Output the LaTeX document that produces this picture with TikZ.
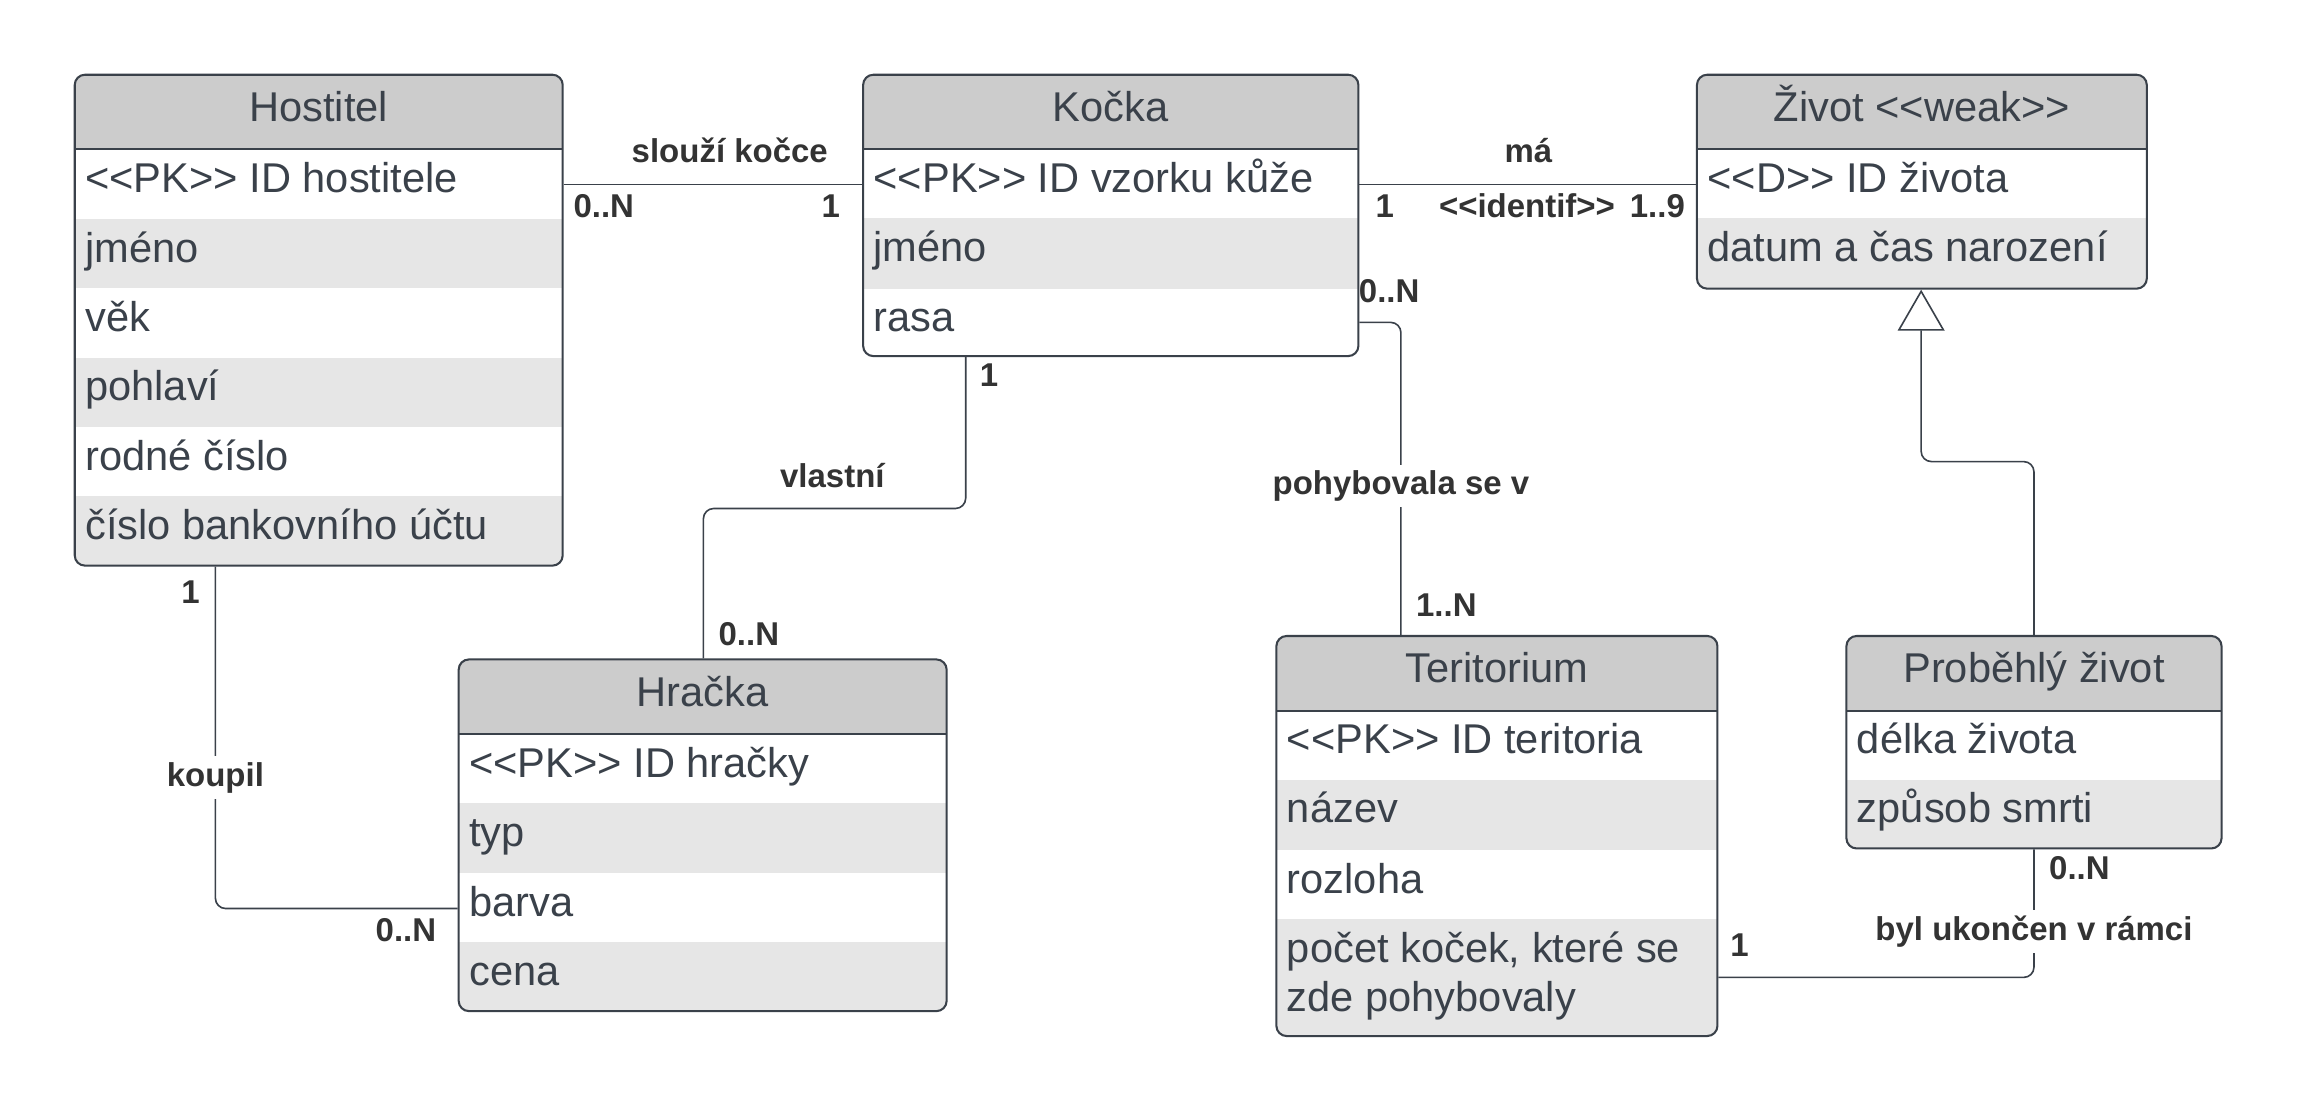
\documentclass[tikz,border=0pt]{standalone}
\usepackage{fontspec}
\setmainfont{Liberation Sans}
\usetikzlibrary{fit,arrows.meta}
\definecolor{bd}{HTML}{3A414A}
\definecolor{hdr}{HTML}{CCCCCC}
\definecolor{alt}{HTML}{E6E6E6}
\definecolor{lbl}{HTML}{333333}
\newcommand\lt{<{}<}
\newcommand\gt{>{}>}
\tikzset{
  attr/.style={anchor=base west, inner sep=0pt, text=bd, font=\fontsize{28.4}{34}\selectfont},
  ttl/.style={anchor=base, inner sep=0pt, text=bd, font=\fontsize{28.4}{34}\selectfont},
  lab/.style={anchor=base, inner sep=0pt, text=lbl, font=\bfseries\fontsize{22.5}{26}\selectfont},
  labbg/.style={lab, fill=white, inner sep=4pt},
  box/.style={inner sep=0pt, draw=bd, line width=1.4pt, rounded corners=7pt},
  sep/.style={draw=bd, line width=1.4pt},
  conn/.style={draw=bd, line width=1.1pt, rounded corners=7pt},
}
\newcommand\erow[7]{%
  \fill[#6] ({#2},{#4}) rectangle ({#3},{#5});
  \node[attr] (#1) at ({#2+7},{#4+29.5}) {#7};}
\newcommand\ehead[6]{%
  \fill[white] ({#2},{#3}) rectangle ({#4},{#5});
  \fill[hdr] ({#2},{#3}) rectangle ({#4},{#3+51});
  \node[ttl] (#1) at ({(#2+#4)/2},{#3+32}) {#6};}
\begin{document}
\begin{tikzpicture}[x=1pt,y=-1pt]
\useasboundingbox (0,0) rectangle (1567.5,759);
\fill[white] (0,0) rectangle (1567.5,759);

% ---------- Hostitel
\begin{scope}
\clip[rounded corners=7pt] (51,51) rectangle (384,386);
\ehead{host-t}{51}{51}{384}{386}{Hostitel}
\erow{host-r1}{51}{384}{102}{149.3}{white}{\lt PK\gt{} ID hostitele}
\erow{host-r2}{51}{384}{149.3}{196.7}{alt}{jméno}
\erow{host-r3}{51}{384}{196.7}{244}{white}{věk}
\erow{host-r4}{51}{384}{244}{291.3}{alt}{pohlaví}
\erow{host-r5}{51}{384}{291.3}{338.7}{white}{rodné číslo}
\erow{host-r6}{51}{384}{338.7}{386}{alt}{číslo bankovního účtu}
\end{scope}
\draw[sep] (51,102) -- (384,102);
\node[box, fit={(51,51) (384,386)}] (host) {};

% ---------- Kočka
\begin{scope}
\clip[rounded corners=7pt] (589,51) rectangle (927,243);
\ehead{kocka-t}{589}{51}{927}{243}{Kočka}
\erow{kocka-r1}{589}{927}{102}{149}{white}{\lt PK\gt{} ID vzorku kůže}
\erow{kocka-r2}{589}{927}{149}{197}{alt}{jméno}
\erow{kocka-r3}{589}{927}{197}{243}{white}{rasa}
\end{scope}
\draw[sep] (589,102) -- (927,102);
\node[box, fit={(589,51) (927,243)}] (kocka) {};

% ---------- Život
\begin{scope}
\clip[rounded corners=7pt] (1158,51) rectangle (1465,197);
\ehead{zivot-t}{1158}{51}{1465}{197}{Život \lt weak\gt}
\erow{zivot-r1}{1158}{1465}{102}{149}{white}{\lt D\gt{} ID života}
\erow{zivot-r2}{1158}{1465}{149}{197}{alt}{datum a čas narození}
\end{scope}
\draw[sep] (1158,102) -- (1465,102);
\node[box, fit={(1158,51) (1465,197)}] (zivot) {};

% ---------- Hračka
\begin{scope}
\clip[rounded corners=7pt] (313,450) rectangle (646,690);
\ehead{hracka-t}{313}{450}{646}{690}{Hračka}
\erow{hracka-r1}{313}{646}{501}{548}{white}{\lt PK\gt{} ID hračky}
\erow{hracka-r2}{313}{646}{548}{596}{alt}{typ}
\erow{hracka-r3}{313}{646}{596}{643}{white}{barva}
\erow{hracka-r4}{313}{646}{643}{690}{alt}{cena}
\end{scope}
\draw[sep] (313,501) -- (646,501);
\node[box, fit={(313,450) (646,690)}] (hracka) {};

% ---------- Teritorium
\begin{scope}
\clip[rounded corners=7pt] (871,434) rectangle (1172,707);
\ehead{terit-t}{871}{434}{1172}{707}{Teritorium}
\erow{terit-r1}{871}{1172}{485}{532}{white}{\lt PK\gt{} ID teritoria}
\erow{terit-r2}{871}{1172}{532}{580}{alt}{název}
\erow{terit-r3}{871}{1172}{580}{627}{white}{rozloha}
\erow{terit-r4}{871}{1172}{627}{707}{alt}{počet koček, které se}
\node[attr] (terit-r4b) at (878,690.5) {zde pohybovaly};
\end{scope}
\draw[sep] (871,485) -- (1172,485);
\node[box, fit={(871,434) (1172,707)}] (terit) {};

% ---------- Proběhlý život
\begin{scope}
\clip[rounded corners=7pt] (1260,434) rectangle (1516,579);
\ehead{prob-t}{1260}{434}{1516}{579}{Proběhlý život}
\erow{prob-r1}{1260}{1516}{485}{532}{white}{délka života}
\erow{prob-r2}{1260}{1516}{532}{579}{alt}{způsob smrti}
\end{scope}
\draw[sep] (1260,485) -- (1516,485);
\node[box, fit={(1260,434) (1516,579)}] (prob) {};

% ---------- connectors
\draw[conn] (host.east |- 0,126) -- (kocka.west |- 0,126);
\draw[conn] (kocka.east |- 0,126) -- (zivot.west |- 0,126);
\draw[conn] (kocka.east |- 0,220) -- (956,220) -- (terit.north -| 956,0);
\draw[conn] (kocka.south -| 659,0) -- (659,347) -- (480,347) -- (hracka.north -| 480,0);
\draw[conn] (host.south -| 147,0) -- (147,620) -- (hracka.west |- 0,620);
\draw[conn] (terit.east |- 0,667) -- (1388,667) -- (prob.south -| 1388,0);
\draw[conn, -{Triangle[open, length=28pt, width=32pt, fill=white]}]
  (prob.north -| 1388,0) -- (1388,315) -- (1311,315) -- (zivot.south -| 1311,0);

% ---------- labels
\node[lab] (l-slouzi) at (498,111) {slouží kočce};
\node[lab] (l-m1) at (412,148.5) {0..N};
\node[lab] (l-m2) at (567,148.5) {1};
\node[lab] (l-ma) at (1043,111) {má};
\node[lab] (l-m3) at (945,148.5) {1};
\node[lab] (l-ident) at (1042,148.5) {\lt identif\gt};
\node[lab] (l-m4) at (1131,148.5) {1..9};
\node[lab] (l-m5) at (948,206.5) {0..N};
\node[labbg] (l-pohyb) at (956,337.5) {pohybovala se v};
\node[lab] (l-m6) at (987,420.5) {1..N};
\node[lab] (l-m7) at (675,263.5) {1};
\node[lab] (l-vlastni) at (568,332.5) {vlastní};
\node[lab] (l-m8) at (511,440.5) {0..N};
\node[lab] (l-m9) at (130,411.5) {1};
\node[labbg] (l-koupil) at (147,536.5) {koupil};
\node[lab] (l-m10) at (277,642.5) {0..N};
\node[lab] (l-m11) at (1187,652.5) {1};
\node[lab] (l-m12) at (1419,600.5) {0..N};
\node[labbg] (l-byl) at (1388,641.5) {byl ukončen v rámci};
\end{tikzpicture}
\end{document}
